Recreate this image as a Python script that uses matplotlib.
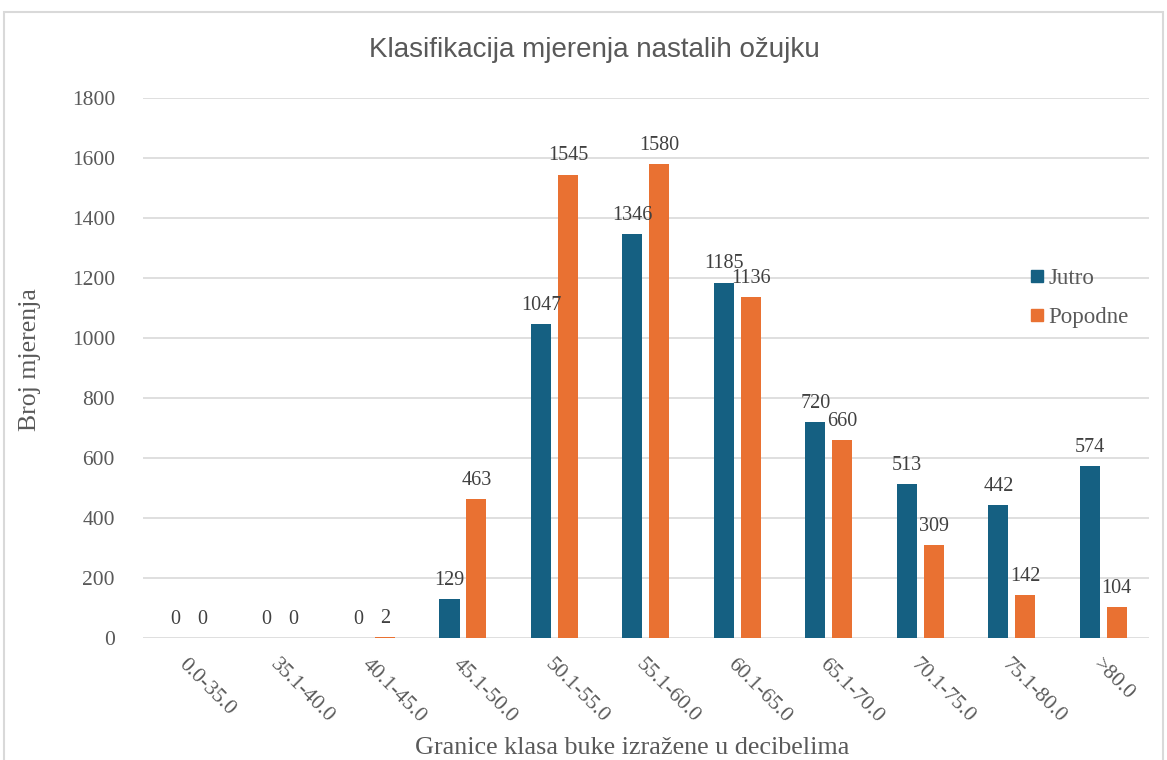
import matplotlib
matplotlib.use("Agg")
import matplotlib.pyplot as plt
from matplotlib.patches import Rectangle
from matplotlib.lines import Line2D
import numpy as np
from matplotlib import font_manager

categories = ["0.0-35.0", "35.1-40.0", "40.1-45.0", "45.1-50.0", "50.1-55.0",
              "55.1-60.0", "60.1-65.0", "65.1-70.0", "70.1-75.0", "75.1-80.0", ">80.0"]
jutro = [0, 0, 0, 129, 1047, 1346, 1185, 720, 513, 442, 574]
popodne = [0, 0, 2, 463, 1545, 1580, 1136, 660, 309, 142, 104]
series_names = ["Jutro", "Popodne"]
yticks = [0, 200, 400, 600, 800, 1000, 1200, 1400, 1600, 1800]

names = {f.name for f in font_manager.fontManager.ttflist}
title_font = "Liberation Sans Narrow" if "Liberation Sans Narrow" in names else "Liberation Sans"
serif = "Liberation Serif"

blue = "#156082"
orange = "#E97132"
gray = "#595959"

fig = plt.figure(figsize=(11.67, 7.6), dpi=100)
fig.patches.append(Rectangle((4/1167, -0.01), (1163-4)/1167, (760-12)/760 + 0.01,
                             transform=fig.transFigure, fill=False, edgecolor="#d9d9d9", lw=1.5))

ax = fig.add_axes([142.75/1167, (760-638)/760, (1149-142.75)/1167, (638-98)/760])
x = np.arange(len(categories))
w = 0.22
off = 0.147
b1 = ax.bar(x - off, jutro, w, color=blue, zorder=3)
b2 = ax.bar(x + off, popodne, w, color=orange, zorder=3)

for rects, vals in ((b1, jutro), (b2, popodne)):
    for r, v in zip(rects, vals):
        ax.text(r.get_x() + r.get_width()/2, v + 30, str(v), ha="center", va="bottom",
                fontsize=14.5, family=serif, color="#404040")

ax.set_xlim(-0.5, len(categories) - 0.5)
ax.set_ylim(0, 1800)
ax.set_yticks(yticks)
ax.set_yticklabels([str(t) for t in yticks], family=serif, fontsize=15.5, color=gray)
ax.yaxis.grid(True, color="#d9d9d9", lw=1.2, zorder=0)
ax.tick_params(axis="both", length=0)
ax.tick_params(axis="y", pad=20)
for s in ax.spines.values():
    s.set_visible(False)
ax.set_xticks(x)
ax.set_xticklabels(categories, rotation=-45, ha="left", va="top", rotation_mode="anchor",
                   family=serif, fontsize=15.5, color=gray)
ax.tick_params(axis="x", pad=12)

fig.text(30/1167, (760-360)/760, "Broj mjerenja", family=serif, fontsize=18.5, color=gray,
         rotation=90, ha="center", va="center")
fig.text(632/1167, (760 - 748) / 760, "Granice klasa buke izražene u decibelima",
         family=serif, fontsize=18.8, color=gray, ha="center", va="center")
fig.text(594/1167, (760 - 50) / 760, "Klasifikacija mjerenja nastalih ožujku",
         family=title_font, fontsize=20, color=gray, ha="center", va="center")

handles = [Line2D([], [], marker="s", linestyle="none", color=blue, markersize=9),
           Line2D([], [], marker="s", linestyle="none", color=orange, markersize=9)]
leg = ax.legend(handles, series_names, loc="center left", bbox_to_anchor=(1005/1167, (760-298)/760),
                bbox_transform=fig.transFigure, frameon=False, prop={"family": serif, "size": 16.5},
                handletextpad=0.0, labelspacing=0.8, handlelength=1.0, labelcolor=gray)

fig.savefig("out.png", dpi=100)
